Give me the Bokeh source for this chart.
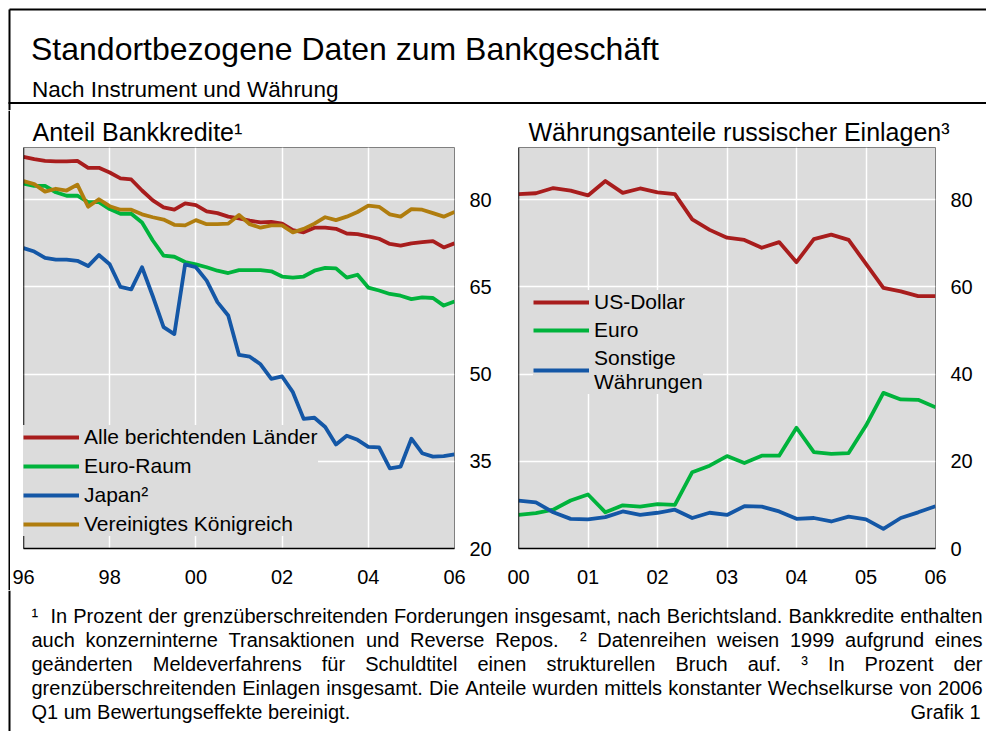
from bokeh.plotting import figure
from bokeh.layouts import column, row
from bokeh.models import Range1d, FixedTicker, Span, ColumnDataSource
from bokeh.core.properties import value
from bokeh.embed import file_html
from bokeh.resources import INLINE

FONT = "Liberation Sans"

# ---------------- data: left panel (quarterly 1996 Q1 - 2006 Q1) ----------------
left_dates = [1996 + q / 4 for q in range(41)]
alle_laender = [87.4, 87.0, 86.7, 86.6, 86.6, 86.7, 85.5, 85.5, 84.7, 83.7,
                83.5, 81.6, 79.9, 78.7, 78.3, 79.4, 79.1, 78.0, 77.7, 77.1,
                76.8, 76.4, 76.1, 76.2, 75.9, 74.8, 74.4, 75.2, 75.2, 75.0,
                74.2, 74.1, 73.7, 73.3, 72.4, 72.1, 72.5, 72.7, 72.9, 71.8, 72.5]
euro_raum = [82.8, 82.4, 82.4, 81.3, 80.7, 80.7, 79.6, 79.6, 78.4, 77.6,
             77.6, 76.1, 73.0, 70.4, 70.2, 69.3, 68.9, 68.4, 67.8, 67.4,
             67.9, 67.9, 67.9, 67.7, 66.8, 66.6, 66.8, 67.8, 68.3, 68.2,
             66.6, 67.1, 64.9, 64.4, 63.8, 63.5, 62.9, 63.2, 63.1, 61.8, 62.5]
japan = [71.7, 71.1, 70.0, 69.7, 69.7, 69.5, 68.6, 70.5, 68.9, 65.0,
         64.6, 68.4, 63.4, 58.1, 56.9, 68.9, 68.4, 66.1, 62.4, 60.1,
         53.3, 53.0, 51.7, 49.2, 49.6, 46.9, 42.3, 42.5, 40.9, 37.9,
         39.4, 38.7, 37.5, 37.4, 33.8, 34.1, 38.9, 36.4, 35.8, 35.9, 36.2]
vereinigtes_koenigreich = [83.2, 82.7, 81.4, 81.9, 81.6, 82.6, 78.8, 80.1, 78.9, 78.3,
                           78.3, 77.5, 77.0, 76.6, 75.7, 75.6, 76.5, 75.8, 75.8, 75.9,
                           77.4, 75.8, 75.2, 75.6, 75.6, 74.4, 75.0, 75.9, 77.0, 76.5,
                           77.1, 77.9, 79.0, 78.8, 77.5, 77.1, 78.4, 78.3, 77.7, 77.1, 77.9]
left_names = ["Alle berichtenden Länder", "Euro-Raum", "Japan²", "Vereinigtes Königreich"]

# ---------------- data: right panel (quarterly 2000 Q1 - 2006 Q1) ----------------
right_dates = [2000 + q / 4 for q in range(25)]
us_dollar = [81.3, 81.5, 82.7, 82.1, 81.0, 84.3, 81.6, 82.6, 81.7, 81.3,
             75.5, 73.1, 71.3, 70.8, 69.0, 70.3, 65.7, 71.0, 72.0, 70.8,
             65.3, 59.8, 59.0, 57.9, 57.9]
euro = [7.7, 8.1, 8.9, 11.0, 12.4, 8.3, 9.9, 9.6, 10.2, 10.0,
        17.5, 19.0, 21.2, 19.6, 21.3, 21.3, 27.7, 22.1, 21.7, 21.9,
        28.2, 35.7, 34.2, 34.1, 32.4]
sonstige = [11.0, 10.6, 8.3, 6.8, 6.7, 7.2, 8.5, 7.7, 8.2, 8.9,
            7.0, 8.2, 7.7, 9.7, 9.6, 8.5, 6.8, 7.0, 6.2, 7.3,
            6.7, 4.5, 7.0, 8.3, 9.7]
right_names = ["US-Dollar", "Euro", "Sonstige\nWährungen"]

# ---------------- ticks ----------------
left_xticks = [1996, 1998, 2000, 2002, 2004, 2006]
left_xlabels = ["96", "98", "00", "02", "04", "06"]
left_yticks = [20, 35, 50, 65, 80]
right_xticks = [2000, 2001, 2002, 2003, 2004, 2005, 2006]
right_xlabels = ["00", "01", "02", "03", "04", "05", "06"]
right_yticks = [0, 20, 40, 60, 80]

# ---------------- texts ----------------
title = "Standortbezogene Daten zum Bankgeschäft"
subtitle = "Nach Instrument und Währung"
left_title = "Anteil Bankkredite¹"
right_title = "Währungsanteile russischer Einlagen³"
foot_lines = [
    "¹  In Prozent der grenzüberschreitenden Forderungen insgesamt, nach Berichtsland. Bankkredite enthalten",
    "auch konzerninterne Transaktionen und Reverse Repos.  ² Datenreihen weisen 1999 aufgrund eines",
    "geänderten Meldeverfahrens für Schuldtitel einen strukturellen Bruch auf. ³ In Prozent der",
    "grenzüberschreitenden Einlagen insgesamt. Die Anteile wurden mittels konstanter Wechselkurse von 2006",
]
foot_last = "Q1 um Bewertungseffekte bereinigt."
grafik = "Grafik 1"

RED = "#a81d1d"
GREEN = "#00b33c"
BLUE = "#1457a6"
GOLD = "#b07d0e"
BG = "#dcdcdc"

# Arial / Liberation Sans advance widths (per 1000 em), used to justify the notes
_W = {" ": 278, ".": 278, ",": 278, "-": 333, "¹": 333, "²": 333, "³": 333}
for c in "0123456789":
    _W[c] = 556
_W.update(dict(zip("ABCDEFGHIJKLMNOPQRSTUVWXYZ",
                   [667, 667, 722, 722, 667, 611, 778, 722, 278, 500, 667, 556, 833,
                    722, 778, 667, 778, 722, 667, 611, 722, 667, 944, 667, 667, 611])))
_W.update(dict(zip("abcdefghijklmnopqrstuvwxyz",
                   [556, 556, 500, 556, 556, 278, 556, 556, 222, 222, 500, 222, 833,
                    556, 556, 556, 556, 333, 500, 278, 556, 500, 722, 500, 500, 500])))
_W.update({"ä": 556, "ö": 556, "ü": 556, "ß": 611})


def text_width(s, size):
    return sum(_W.get(c, 556) for c in s) * size / 1000.0


TOTAL_W = 986


def canvas(width, height):
    """Figure whose data units are pixels, y pointing down."""
    f = figure(width=width, height=height, x_range=Range1d(0, width), y_range=Range1d(height, 0),
               toolbar_location=None, output_backend="svg", min_border=0,
               x_axis_location=None, y_axis_location=None, outline_line_color=None)
    f.xgrid.visible = False
    f.ygrid.visible = False
    f.frame_align = False
    return f


# ---------------- header ----------------
HH = 110
hdr = canvas(TOTAL_W, HH)
hdr.segment(x0=[9, 9, 8], y0=[9, 9, 102.5], x1=[TOTAL_W, 9, TOTAL_W], y1=[9, HH, 102.5],
            line_color="black", line_width=2)
hdr.text(x=[30.5], y=[48], text=[title], text_font=value(FONT), text_font_size="32px",
         text_color="black", text_baseline="alphabetic")
hdr.text(x=[31.5], y=[89], text=[subtitle], text_font=value(FONT), text_font_size="22.5px",
         text_color="black", text_baseline="alphabetic")

# ---------------- left border strip for the plot row ----------------
PH = 480
strip = canvas(10, PH)
strip.segment(x0=[9], y0=[0], x1=[9], y1=[PH], line_color="black", line_width=2)


# ---------------- plot panels ----------------
def panel(width, x_range, y_range, xticks, xlabels, yticks, mbl, mbr, ptitle, toff):
    p = figure(width=width, height=PH, x_range=Range1d(*x_range), y_range=Range1d(*y_range),
               y_axis_location="right", toolbar_location=None, output_backend="svg",
               min_border_left=mbl, min_border_right=mbr, min_border_top=37, min_border_bottom=42,
               title=ptitle)
    p.title.text_font = FONT
    p.title.text_font_size = "25px"
    p.title.text_font_style = "normal"
    p.title.text_color = "black"
    p.title.align = "left"
    p.title.offset = toff
    p.title.standoff = 3
    p.background_fill_color = BG
    p.border_fill_color = "white"
    p.outline_line_color = "#808080"
    p.outline_line_width = 1
    xa = p.xaxis[0]
    xa.ticker = FixedTicker(ticks=xticks)
    xa.major_label_overrides = {t: l for t, l in zip(xticks, xlabels)}
    xa.axis_line_color = "black"
    xa.axis_line_width = 1.5
    xa.major_tick_line_color = None
    xa.minor_tick_line_color = None
    xa.major_label_standoff = 15
    xa.major_label_text_font = FONT
    xa.major_label_text_font_size = "20px"
    xa.major_label_text_color = "black"
    ya = p.yaxis[0]
    ya.ticker = FixedTicker(ticks=yticks)
    ya.axis_line_color = None
    ya.major_tick_line_color = None
    ya.minor_tick_line_color = None
    ya.major_label_standoff = 9
    ya.major_label_text_font = FONT
    ya.major_label_text_font_size = "20px"
    ya.major_label_text_color = "black"
    p.xgrid.ticker = FixedTicker(ticks=xticks[1:-1])
    p.ygrid.ticker = FixedTicker(ticks=yticks[1:])
    p.grid.grid_line_color = "white"
    p.grid.grid_line_width = 1.5
    p.add_layout(Span(location=x_range[0], dimension="height", line_color="black", line_width=1.5))
    return p


pl = panel(495, (1996, 2006), (20, 89), left_xticks, left_xlabels, left_yticks, 13, 51,
           left_title, 9)
for ys, col, name in zip([alle_laender, euro_raum, japan, vereinigtes_koenigreich],
                         [RED, GREEN, BLUE, GOLD], left_names):
    pl.line(left_dates, ys, line_color=col, line_width=3.8, line_join="round", legend_label=name)

pr = panel(481, (2000, 2006), (0, 92), right_xticks, right_xlabels, right_yticks, 13, 51,
           right_title, 10)
for ys, col, name in zip([us_dollar, euro, sonstige], [RED, GREEN, BLUE], right_names):
    pr.line(right_dates, ys, line_color=col, line_width=3.8, line_join="round", legend_label=name)

for p, loc, pad, sp in [(pl, (0, 12), 5, 5), (pr, (15, 154), 9, 4)]:
    lg = p.legend[0]
    lg.location = loc
    lg.padding = pad
    lg.spacing = sp
    lg.margin = 0
    lg.glyph_width = 56
    lg.glyph_height = 20
    lg.label_height = 20
    lg.label_standoff = 5
    lg.label_text_font = FONT
    lg.label_text_font_size = "21px"
    lg.label_text_line_height = 1.3
    lg.label_text_color = "black"
    lg.background_fill_color = BG
    lg.background_fill_alpha = 1
    lg.border_line_color = None

# ---------------- footer ----------------
FH = 141
ftr = canvas(TOTAL_W, FH)
ftr.segment(x0=[9], y0=[0], x1=[9], y1=[FH], line_color="black", line_width=2)

FS = 20
LEFT, RIGHT = 31.0, 982.0
base0, lead = 25, 24
wx, wy, wt = [], [], []
for i, line in enumerate(foot_lines):
    words = line.split(" ")
    total = sum(text_width(w, FS) for w in words)
    gap = (RIGHT - LEFT - total) / (len(words) - 1)
    x = LEFT
    for w in words:
        wx.append(x)
        wy.append(base0 + i * lead)
        wt.append(w)
        x += text_width(w, FS) + gap
ftr.text(x="x", y="y", text="t", source=ColumnDataSource(dict(x=wx, y=wy, t=wt)),
         text_font=value(FONT), text_font_size=f"{FS}px", text_color="black",
         text_baseline="alphabetic")
ftr.text(x=[LEFT], y=[base0 + 4 * lead], text=[foot_last], text_font=value(FONT),
         text_font_size=f"{FS}px", text_color="black", text_baseline="alphabetic")
ftr.text(x=[980], y=[base0 + 4 * lead], text=[grafik], text_font=value(FONT),
         text_font_size=f"{FS}px", text_color="black", text_baseline="alphabetic",
         text_align="right")

layout = column(hdr, row(strip, pl, pr), ftr)

open("out.html", "w").write(file_html(layout, INLINE))
